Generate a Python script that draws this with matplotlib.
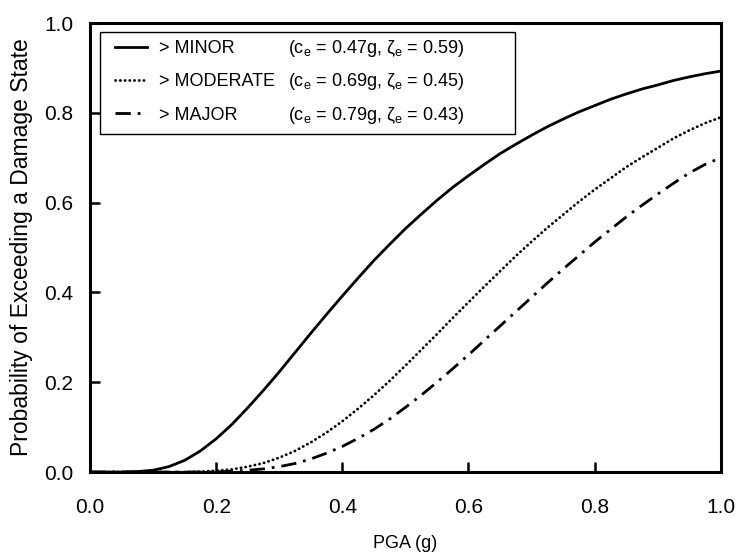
import matplotlib
matplotlib.use("Agg")
import matplotlib.pyplot as plt
from matplotlib.patches import Rectangle

plt.rcParams['font.family'] = ['Liberation Sans', 'DejaVu Sans']
plt.rcParams['mathtext.fontset'] = 'custom'
plt.rcParams['mathtext.rm'] = 'Liberation Sans'

# PGA values (g) and exceedance probabilities
pga = [0.000, 0.025, 0.050, 0.075, 0.100, 0.125, 0.150, 0.175, 0.200, 0.225,
       0.250, 0.275, 0.300, 0.325, 0.350, 0.375, 0.400, 0.425, 0.450, 0.475,
       0.500, 0.525, 0.550, 0.575, 0.600, 0.625, 0.650, 0.675, 0.700, 0.725,
       0.750, 0.775, 0.800, 0.825, 0.850, 0.875, 0.900, 0.925, 0.950, 0.975, 1.000]
p_minor = [0.000, 0.000, 0.000, 0.001, 0.004, 0.012, 0.026, 0.047, 0.074, 0.106,
           0.143, 0.182, 0.223, 0.266, 0.309, 0.351, 0.392, 0.432, 0.471, 0.507,
           0.542, 0.574, 0.605, 0.634, 0.660, 0.685, 0.709, 0.730, 0.750, 0.769,
           0.786, 0.802, 0.816, 0.830, 0.842, 0.853, 0.862, 0.872, 0.880, 0.887, 0.893]
p_moderate = [0.000, 0.000, 0.000, 0.000, 0.000, 0.000, 0.000, 0.001, 0.003, 0.006,
              0.012, 0.020, 0.032, 0.047, 0.066, 0.088, 0.113, 0.141, 0.171, 0.203,
              0.237, 0.272, 0.307, 0.343, 0.378, 0.413, 0.447, 0.481, 0.513, 0.544,
              0.573, 0.602, 0.629, 0.654, 0.679, 0.701, 0.722, 0.743, 0.761, 0.777, 0.790]
p_major = [0.000, 0.000, 0.000, 0.000, 0.000, 0.000, 0.000, 0.000, 0.000, 0.002,
           0.004, 0.007, 0.012, 0.019, 0.029, 0.042, 0.057, 0.075, 0.095, 0.118,
           0.144, 0.171, 0.200, 0.230, 0.261, 0.293, 0.325, 0.357, 0.389, 0.421,
           0.452, 0.482, 0.512, 0.540, 0.568, 0.594, 0.619, 0.643, 0.666, 0.685, 0.700]

labels = ['> MINOR', '> MODERATE', '> MAJOR']
params = [r'(c$_\mathregular{e}$ = 0.47g, ζ$_\mathregular{e}$ = 0.59)',
          r'(c$_\mathregular{e}$ = 0.69g, ζ$_\mathregular{e}$ = 0.45)',
          r'(c$_\mathregular{e}$ = 0.79g, ζ$_\mathregular{e}$ = 0.43)']

fig = plt.figure(figsize=(7.43, 5.56), dpi=100)
ax = fig.add_axes([0.1211, 0.151, 0.849, 0.8076])

lw = 2.0
ax.plot(pga, p_minor, color='black', lw=lw, ls='-', label=labels[0])
ax.plot(pga, p_moderate, color='black', lw=lw, ls=(0, (0.1, 1.6)),
        dash_capstyle='round', label=labels[1])
ax.plot(pga, p_major, color='black', lw=lw, ls=(0, (5.5, 2.5, 1, 2.5)), label=labels[2])

ax.set_xlim(0, 1)
ax.set_ylim(0, 1)
ax.set_xticks([0, 0.2, 0.4, 0.6, 0.8, 1.0])
ax.set_yticks([0, 0.2, 0.4, 0.6, 0.8, 1.0])
ax.xaxis.set_major_formatter(plt.FormatStrFormatter('%.1f'))
ax.yaxis.set_major_formatter(plt.FormatStrFormatter('%.1f'))
ax.tick_params(direction='in', length=7, width=1.8, labelsize=15)
ax.tick_params(axis='x', pad=19)
ax.tick_params(axis='y', pad=12)
for s in ax.spines.values():
    s.set_linewidth(2.2)

ax.set_xlabel('PGA (g)', fontsize=13)
ax.xaxis.set_label_coords(0.5, -0.14)
ax.set_ylabel('Probability of Exceeding a Damage State', fontsize=16.5, va='center')
ax.yaxis.set_label_coords(-0.108, 0.5)

leg = ax.legend(loc='upper left', bbox_to_anchor=(0.0396, 0.962), frameon=False,
                fontsize=13, handlelength=1.8, handletextpad=0.65, labelspacing=0.9,
                borderpad=0, borderaxespad=0)

# frame of the legend box
ax.add_patch(Rectangle((0.016, 0.753), 0.6575, 0.227, transform=ax.transAxes,
                       fill=False, edgecolor='black', lw=1.0, zorder=5))

fig.canvas.draw()
inv = ax.transAxes.inverted()
for t, ptxt in zip(leg.get_texts(), params):
    bb = t.get_window_extent()
    yc = inv.transform((0, (bb.y0 + bb.y1) / 2))[1]
    ax.text(0.3138, yc, ptxt, transform=ax.transAxes, fontsize=13, va='center', ha='left')

fig.savefig('out.png', dpi=100)
